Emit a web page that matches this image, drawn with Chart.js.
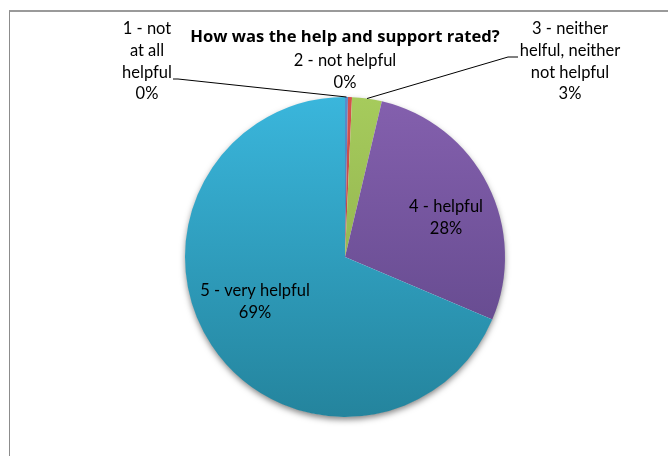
<!DOCTYPE html>
<html>
<head>
<meta charset="utf-8">
<script src="https://cdn.jsdelivr.net/npm/chart.js@4"></script>
<style>
  html, body { margin: 0; padding: 0; background: #fff; }
  #wrap { position: relative; width: 668px; height: 456px; overflow: hidden; }
  #frame {
    position: absolute; left: 9px; top: 10px; width: 700px; height: 500px;
    border-left: 1px solid #8c8c8c; border-top: 2px solid #9a9a9a;
  }
  #chart { position: absolute; left: 0; top: 0; }
</style>
</head>
<body>
<div id="wrap">
  <div id="frame"></div>
  <canvas id="chart" width="668" height="456"></canvas>
</div>
<script>
const title = 'How was the help and support rated?'
const categories = [
    '1 - not at all helpful',
    '2 - not helpful',
    '3 - neither helful, neither not helpful',
    '4 - helpful',
    '5 - very helpful'
]
// share of answers, in percent
const shares = [0.3, 0.4, 3.0, 27.7, 68.6]
// how each category name is broken into lines on the chart
const labelLines = [
    ['1 - not', 'at all', 'helpful'],
    ['2 - not helpful'],
    ['3 - neither', 'helful, neither', 'not helpful'],
    ['4 - helpful'],
    ['5 - very helpful']
]
const lightColors = ['#5b8ccb', '#d4524f', '#a6cb5c', '#8460ae', '#3ab6dc']
const darkColors = ['#3c6698', '#a33e3b', '#86a548', '#5c4485', '#24849d']

const total = shares.reduce((a, b) => a + b, 0)
const pct = v => Math.round(v / total * 100) + '%'

// where each label block sits (centre x, first line y) and whether it gets a leader line
const labelSpots = [
    { x: 147, y: 29, leader: { x: 178, y: 79 } },
    { x: 345, y: 61 },
    { x: 570, y: 29, leader: { x: 518, y: 57 }, elbow: 508 },
    { x: 446, y: 207 },
    { x: 255, y: 291 }
]

const gradientFill = ctx => {
    const i = ctx.dataIndex
    const area = ctx.chart.chartArea
    if (!area) return lightColors[i]
    const g = ctx.chart.ctx.createLinearGradient(0, area.top, 0, area.bottom)
    g.addColorStop(0, lightColors[i])
    g.addColorStop(1, darkColors[i])
    return g
}

const pieShadow = {
    id: 'pieShadow',
    beforeDatasetsDraw(chart) {
        const arc = chart.getDatasetMeta(0).data[0]
        if (!arc) return
        const c = chart.ctx
        c.save()
        c.shadowColor = 'rgba(0,0,0,0.5)'
        c.shadowBlur = 6
        c.shadowOffsetY = 3
        c.fillStyle = '#fff'
        c.beginPath()
        c.arc(arc.x, arc.y, arc.outerRadius - 0.5, 0, Math.PI * 2)
        c.fill()
        c.restore()
    }
}

const sliceLabels = {
    id: 'sliceLabels',
    afterDatasetsDraw(chart) {
        const c = chart.ctx
        const arcs = chart.getDatasetMeta(0).data
        c.save()
        // title
        c.fillStyle = '#000'
        c.textAlign = 'center'
        c.textBaseline = 'middle'
        c.font = 'bold 16.6px "Open Sans", sans-serif'
        c.fillText(title, 345, 37)

        c.font = '16.5px Lato, sans-serif'
        arcs.forEach((arc, i) => {
            const spot = labelSpots[i]
            const lines = labelLines[i].concat([pct(shares[i])])
            lines.forEach((t, k) => c.fillText(t, spot.x, spot.y + k * 21.7))
            if (spot.leader) {
                const mid = (arc.startAngle + arc.endAngle) / 2
                const ex = arc.x + Math.cos(mid) * arc.outerRadius
                const ey = arc.y + Math.sin(mid) * arc.outerRadius
                c.strokeStyle = '#000'
                c.lineWidth = 1
                c.beginPath()
                c.moveTo(ex, ey)
                if (spot.elbow) {
                    c.lineTo(spot.elbow, spot.leader.y)
                    c.lineTo(spot.leader.x, spot.leader.y)
                } else {
                    c.lineTo(spot.leader.x, spot.leader.y)
                    c.lineTo(spot.leader.x - 5, spot.leader.y)
                }
                c.stroke()
            }
        })
        c.restore()
    }
}

const ctx = document.getElementById('chart')
const ratingPie = new Chart(ctx, {
    type: 'pie',
    data: {
        labels: categories,
        datasets: [{
            data: shares,
            backgroundColor: gradientFill,
            borderWidth: 0
        }]
    },
    options: {
        responsive: false,
        animation: false,
        layout: { padding: { top: 97, bottom: 39, left: 25, right: 3 } },
        plugins: {
            legend: { display: false },
            tooltip: { enabled: false }
        }
    },
    plugins: [pieShadow, sliceLabels]
})
</script>
</body>
</html>
